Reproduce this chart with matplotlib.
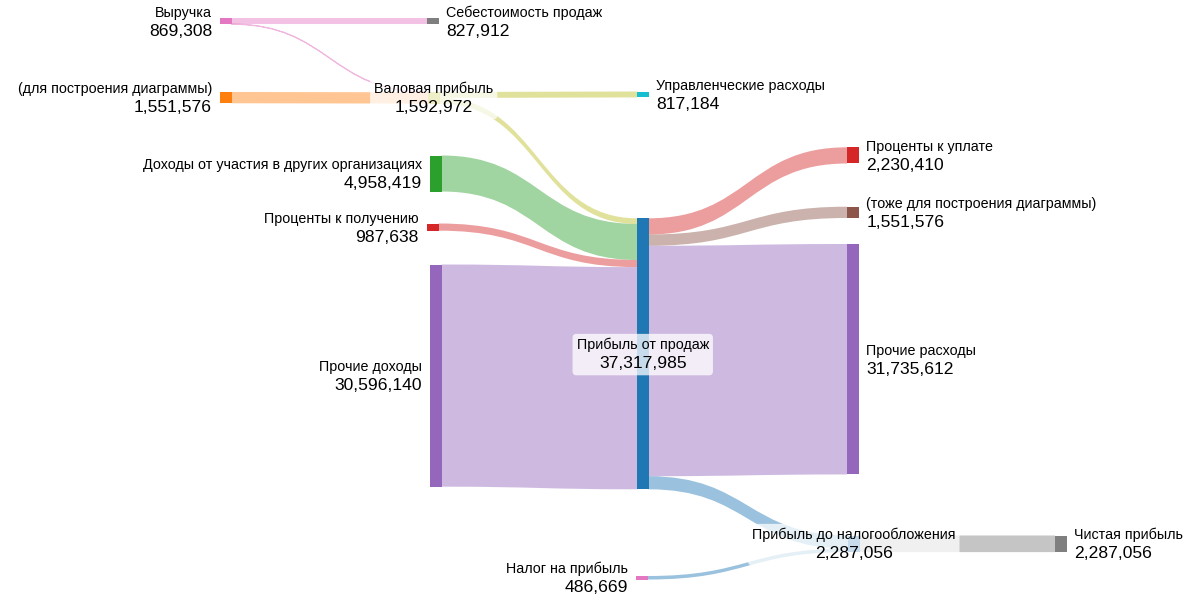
import numpy as np
import matplotlib.pyplot as plt
from matplotlib.path import Path
from matplotlib.patches import PathPatch, Rectangle, FancyBboxPatch
from matplotlib.transforms import Bbox

plt.rcParams['font.family'] = ['Liberation Sans', 'DejaVu Sans']

labels = ['Выручка', 'Себестоимость продаж', '(для построения диаграммы)',
          'Валовая прибыль', 'Управленческие расходы',
          'Доходы от участия в других организациях', 'Проценты к получению',
          'Прочие доходы', 'Прибыль от продаж', 'Проценты к уплате',
          '(тоже для построения диаграммы)', 'Прочие расходы',
          'Прибыль до налогообложения', 'Налог на прибыль', 'Чистая прибыль']
node_colors = ['#e377c2', '#7f7f7f', '#ff7f0e', '#bcbd22', '#17becf',
               '#2ca02c', '#d62728', '#9467bd', '#1f77b4', '#d62728',
               '#8c564b', '#9467bd', '#1f77b4', '#e377c2', '#7f7f7f']

sources = [0, 0, 2, 3, 3, 5, 6, 7, 8, 8, 8, 8, 13, 12]
targets = [1, 3, 3, 4, 8, 8, 8, 8, 9, 10, 11, 12, 12, 14]
values = [827912, 41396, 1551576, 817184, 775788, 4958419, 987638, 30596140,
          2230410, 1551576, 31735612, 1800387, 486669, 2287056]
link_colors = ['#e377c2', '#e377c2', '#ff7f0e', '#bcbd22', '#bcbd22',
               '#2ca02c', '#d62728', '#9467bd', '#d62728', '#8c564b',
               '#9467bd', '#1f77b4', '#1f77b4', '#7f7f7f']

# layout in pixels (x of node left edge, y of node top edge)
node_left = [220, 427, 220, 428, 637, 430, 427, 430, 637, 847, 847, 847, 848, 636, 1055]
node_top = [18, 18, 92, 92, 91.5, 155.5, 223.5, 264.5, 218.3, 147.3, 206.7, 244,
            535.5, 576, 535.5]
NODE_W = 11.5
SCALE = 271 / 37317985
LINK_ALPHA = 0.45

fig = plt.figure(figsize=(12, 6), dpi=100)
ax = fig.add_axes([0, 0, 1, 1])
ax.set_xlim(0, 1200)
ax.set_ylim(600, 0)
ax.axis('off')

n = len(labels)
in_sum = np.zeros(n)
out_sum = np.zeros(n)
for s, t, v in zip(sources, targets, values):
    out_sum[s] += v
    in_sum[t] += v
node_val = np.maximum(in_sum, out_sum)
heights = node_val * SCALE
centers = np.array(node_top) + heights / 2

# stack links at each node, ordered by the position of the other end
link_sy = {}
link_ty = {}
for k in range(n):
    outs = sorted([i for i in range(len(values)) if sources[i] == k],
                  key=lambda i: centers[targets[i]])
    y = node_top[k]
    for i in outs:
        link_sy[i] = y
        y += values[i] * SCALE
    ins = sorted([i for i in range(len(values)) if targets[i] == k],
                 key=lambda i: centers[sources[i]])
    y = node_top[k]
    for i in ins:
        link_ty[i] = y
        y += values[i] * SCALE

for i in range(len(values)):
    s, t = sources[i], targets[i]
    x0 = node_left[s] + NODE_W
    x1 = node_left[t]
    xm = (x0 + x1) / 2
    ys, yt = link_sy[i], link_ty[i]
    h = values[i] * SCALE
    verts = [(x0, ys), (xm, ys), (xm, yt), (x1, yt),
             (x1, yt + h), (xm, yt + h), (xm, ys + h), (x0, ys + h), (x0, ys)]
    codes = [Path.MOVETO, Path.CURVE4, Path.CURVE4, Path.CURVE4,
             Path.LINETO, Path.CURVE4, Path.CURVE4, Path.CURVE4, Path.CLOSEPOLY]
    lw = 0.8 if h < 1.5 else 0
    ax.add_patch(PathPatch(Path(verts, codes), fc=link_colors[i], ec=link_colors[i],
                           lw=lw, alpha=LINK_ALPHA, zorder=1))

for k in range(n):
    ax.add_patch(Rectangle((node_left[k], node_top[k]), NODE_W, heights[k],
                           fc=node_colors[k], ec='none', zorder=2))

renderer = fig.canvas.get_renderer()
for k in range(n):
    if in_sum[k] == 0:
        x, ha = node_left[k] - 8, 'right'
    elif out_sum[k] == 0:
        x, ha = node_left[k] + NODE_W + 8, 'left'
    else:
        x, ha = node_left[k] + NODE_W / 2, 'center'
    cy = centers[k]
    t1 = ax.text(x, cy - 4.5, labels[k], fontsize=10.3, ha=ha, va='baseline',
                 color='black', zorder=5)
    t2 = ax.text(x, cy + 14.5, f'{node_val[k]:,.0f}', fontsize=12.6, ha=ha,
                 va='baseline', color='black', zorder=5)
    bb = Bbox.union([t1.get_window_extent(renderer), t2.get_window_extent(renderer)])
    bb = bb.transformed(ax.transData.inverted())
    bx0, bx1 = min(bb.x0, bb.x1), max(bb.x0, bb.x1)
    by0, by1 = min(bb.y0, bb.y1), max(bb.y0, bb.y1)
    ax.add_patch(FancyBboxPatch((bx0, by0), bx1 - bx0, by1 - by0,
                                boxstyle='round,pad=4,rounding_size=4',
                                fc='white', ec='none', alpha=0.75, zorder=4))

fig.savefig('out.png', dpi=100)
